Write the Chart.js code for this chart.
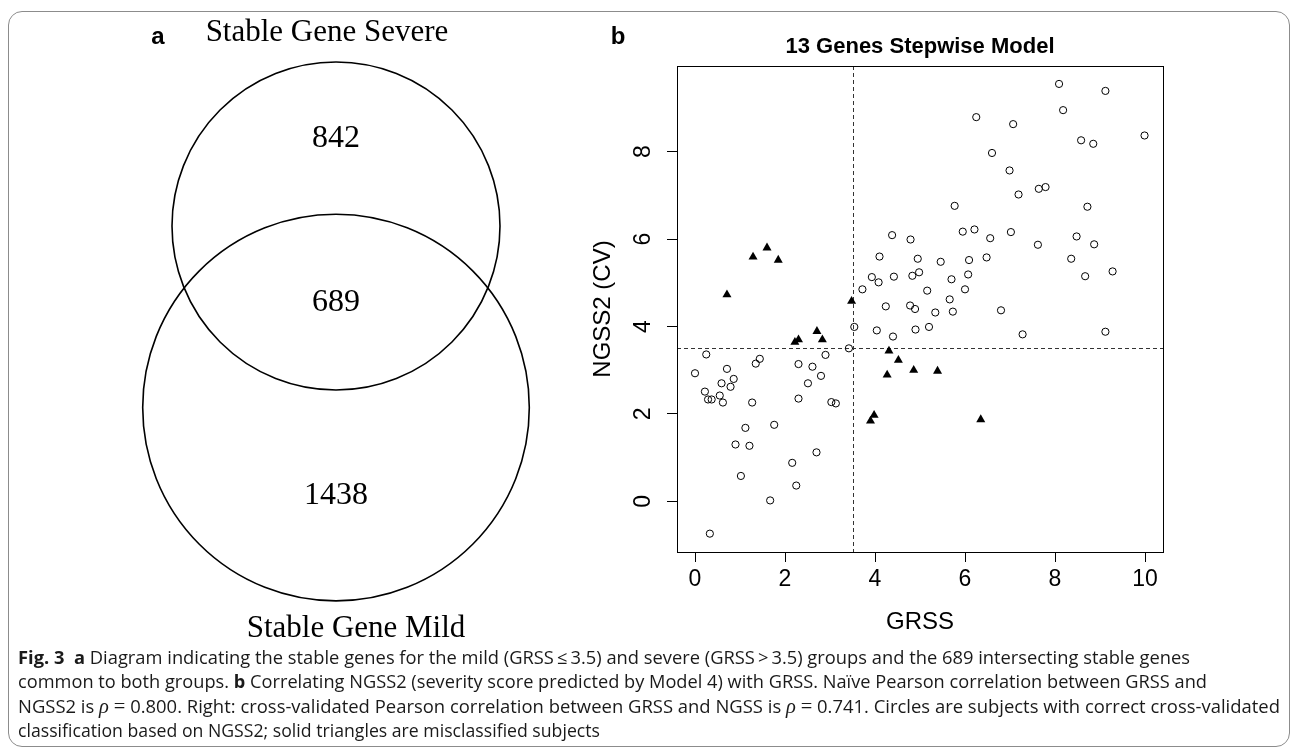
<!DOCTYPE html>
<html>
<head>
<meta charset="utf-8">
<script src="https://cdn.jsdelivr.net/npm/chart.js@4.4.1/dist/chart.umd.min.js"></script>
<style>
  html, body { margin: 0; padding: 0; background: #fff; }
  body { width: 1293px; height: 751px; position: relative; overflow: hidden; }
  #frame { position: absolute; left: 8px; top: 11px; width: 1282px; height: 736px; border: 1px solid #8c8c8c; border-radius: 14px; box-sizing: border-box; }
  canvas { position: absolute; top: 0; left: 0; }
  .cap { position: absolute; left: 18px; height: 22px; line-height: 22px; font-family: "Open Sans", sans-serif; font-size: 18px; white-space: nowrap; transform-origin: 0 50%; color: #1a1a1a; }
  .cap b { font-weight: 700; }
  .rho { font-family: "Liberation Serif", serif; font-style: italic; font-size: 20px; }
  .eq { font-family: "Liberation Serif", serif; font-size: 20px; }
</style>
</head>
<body>
<div id="frame"></div>
<canvas id="venn" width="640" height="751"></canvas>
<canvas id="scatter" width="1293" height="751"></canvas>

<div class="cap" style="top:646px"><b>Fig. 3</b>&nbsp;&nbsp;<b>a</b> Diagram indicating the stable genes for the mild (GRSS&thinsp;≤&thinsp;3.5) and severe (GRSS&thinsp;&gt;&thinsp;3.5) groups and the 689 intersecting stable genes</div>
<div class="cap" style="top:670px">common to both groups. <b>b</b> Correlating NGSS2 (severity score predicted by Model 4) with GRSS. Naïve Pearson correlation between GRSS and</div>
<div class="cap" style="top:695px">NGSS2 is <span class="rho">ρ</span> <span class="eq">=</span> 0.800. Right: cross-validated Pearson correlation between GRSS and NGSS is <span class="rho">ρ</span> <span class="eq">=</span> 0.741. Circles are subjects with correct cross-validated</div>
<div class="cap" style="top:719px">classification based on NGSS2; solid triangles are misclassified subjects</div>

<script>
// ---- panel a: Venn counts ----
const vennSets = ["Stable Gene Severe", "Stable Gene Mild"]
const vennCounts = [842, 689, 1438]   // severe only, both, mild only

// ---- panel b: scatter ----
const circlesGRSS = [0.25,0.00,0.71,0.86,0.59,0.79,0.22,0.55,0.29,0.37,0.62,1.35,1.44,1.27,1.12,1.76,0.90,1.21,1.02,1.67,0.33,2.30,2.61,2.90,2.80,2.51,2.30,3.03,3.13,2.70,2.16,2.25,3.42,3.54,3.72,3.93,4.08,4.10,4.38,4.42,4.24,4.04,4.40,4.79,4.95,4.83,4.98,4.78,4.89,4.90,5.20,5.16,5.34,5.46,5.77,5.70,5.66,5.73,5.95,6.21,6.09,6.07,6.00,6.56,6.48,6.80,7.02,7.19,7.64,7.79,7.62,7.28,8.72,8.48,8.87,8.36,8.67,9.28,9.12,8.09,9.12,6.25,7.07,8.18,6.60,8.58,8.85,9.99,6.99]
const circlesNGSS = [3.36,2.93,3.03,2.80,2.70,2.62,2.51,2.42,2.33,2.33,2.26,3.15,3.26,2.26,1.68,1.75,1.30,1.27,0.58,0.02,-0.74,3.14,3.08,3.35,2.87,2.70,2.35,2.27,2.24,1.12,0.88,0.36,3.50,3.99,4.85,5.13,5.01,5.60,6.09,5.14,4.46,3.91,3.77,5.99,5.55,5.16,5.24,4.48,4.40,3.93,3.99,4.82,4.32,5.48,6.76,5.08,4.62,4.34,6.17,6.22,5.52,5.19,4.85,6.02,5.58,4.37,6.16,7.02,7.15,7.19,5.87,3.82,6.74,6.06,5.88,5.55,5.15,5.26,3.88,9.55,9.39,8.79,8.63,8.95,7.97,8.26,8.18,8.37,7.57]
const trianglesGRSS = [0.71,1.29,1.60,1.85,2.22,2.30,2.71,2.83,3.48,3.90,3.98,4.27,4.31,4.52,4.86,5.39,6.35]
const trianglesNGSS = [4.73,5.59,5.80,5.52,3.64,3.70,3.89,3.70,4.58,1.84,1.97,2.89,3.44,3.23,3.00,2.98,1.87]
const xTicks = [0, 2, 4, 6, 8, 10]
const yTicks = [0, 2, 4, 6, 8]
const cutoff = 3.5

const sans = '"Liberation Sans", Arial, sans-serif'
const serif = '"Liberation Serif", "Times New Roman", serif'

// ---------- Venn geometry from the counts (area proportional to set size) ----------
const severeTotal = vennCounts[0] + vennCounts[1]
const mildTotal = vennCounts[1] + vennCounts[2]
const r1 = Math.sqrt(severeTotal / Math.PI)
const r2 = Math.sqrt(mildTotal / Math.PI)

function lensArea(d) {
  const a = Math.acos((d * d + r1 * r1 - r2 * r2) / (2 * d * r1))
  const b = Math.acos((d * d + r2 * r2 - r1 * r1) / (2 * d * r2))
  const k = Math.sqrt((-d + r1 + r2) * (d + r1 - r2) * (d - r1 + r2) * (d + r1 + r2))
  return r1 * r1 * a + r2 * r2 * b - 0.5 * k
}
let lo = Math.abs(r2 - r1) + 1e-6, hi = r1 + r2 - 1e-6
for (let i = 0; i < 60; i++) {
  const mid = (lo + hi) / 2
  if (lensArea(mid) > vennCounts[1]) lo = mid; else hi = mid
}
const dist = (lo + hi) / 2

// layout of panel a (pixels)
const vennCx = 336, vennTop = 62, vennPx = 164 / r1
const vennW = 640, vennH = 751
const vennYMax = r1 + vennTop / vennPx

const vennLabels = {
  id: "vennLabels",
  afterDraw(chart) {
    const { ctx, scales: { x, y } } = chart
    const cx = x.getPixelForValue(0)
    const top1 = y.getPixelForValue(r1), bot1 = y.getPixelForValue(-r1)
    const top2 = y.getPixelForValue(-dist + r2), bot2 = y.getPixelForValue(-dist - r2)
    ctx.save()
    ctx.fillStyle = "#000"
    ctx.textAlign = "center"
    ctx.textBaseline = "middle"
    ctx.font = `32px ${serif}`
    ctx.fillText(String(vennCounts[0]), cx, (top1 + top2) / 2)
    ctx.fillText(String(vennCounts[1]), cx, (top2 + bot1) / 2)
    ctx.fillText(String(vennCounts[2]), cx, (bot1 + bot2) / 2)
    ctx.font = `31px ${serif}`
    ctx.fillText(vennSets[0], cx - 9, top1 - 29)
    ctx.fillText(vennSets[1], cx + 20, bot2 + 28)
    ctx.font = `bold 24px ${sans}`
    ctx.fillText("a", 158, 37)
    ctx.restore()
  }
}

new Chart(document.getElementById("venn"), {
  type: "scatter",
  data: {
    datasets: [{
      data: [{ x: 0, y: 0 }, { x: 0, y: -dist }],
      pointRadius: ctx => (ctx.dataIndex === 0 ? r1 : r2) * vennPx,
      pointStyle: "circle",
      pointBackgroundColor: "rgba(0,0,0,0)",
      pointBorderColor: "#000",
      pointBorderWidth: 1.6,
      showLine: false,
      clip: false
    }]
  },
  options: {
    responsive: false,
    animation: false,
    devicePixelRatio: 1,
    events: [],
    layout: { padding: 0, autoPadding: false },
    plugins: { legend: { display: false }, tooltip: { enabled: false } },
    scales: {
      x: { display: false, min: -vennCx / vennPx, max: (vennW - vennCx) / vennPx },
      y: { display: false, min: vennYMax - vennH / vennPx, max: vennYMax }
    }
  },
  plugins: [vennLabels]
})

// ---------- scatter ----------
const boxAndCutoffs = {
  id: "boxAndCutoffs",
  beforeDatasetsDraw(chart) {
    const { ctx, chartArea: a, scales: { x, y } } = chart
    ctx.save()
    ctx.strokeStyle = "#333"
    ctx.lineWidth = 1
    ctx.setLineDash([4, 3])
    const px = Math.round(x.getPixelForValue(cutoff)) + 0.5
    const py = Math.round(y.getPixelForValue(cutoff)) + 0.5
    ctx.beginPath()
    ctx.moveTo(px, a.top); ctx.lineTo(px, a.bottom)
    ctx.moveTo(a.left, py); ctx.lineTo(a.right, py)
    ctx.stroke()
    ctx.setLineDash([])
    ctx.strokeStyle = "#000"
    ctx.strokeRect(Math.round(a.left) + 0.5, Math.round(a.top) + 0.5, Math.round(a.width), Math.round(a.height))
    ctx.restore()
  },
  afterDraw(chart) {
    const { ctx, chartArea: a, scales: { y } } = chart
    ctx.save()
    ctx.fillStyle = "#000"
    ctx.textAlign = "center"
    ctx.textBaseline = "middle"
    ctx.font = `23px ${sans}`
    y.ticks.forEach(t => {
      ctx.save()
      ctx.translate(a.left - 33, y.getPixelForValue(t.value))
      ctx.rotate(-Math.PI / 2)
      ctx.fillText(String(t.value), 0, 0)
      ctx.restore()
    })
    ctx.font = `bold 24px ${sans}`
    ctx.fillText("b", a.left - 59, 37)
    ctx.restore()
  }
}

const tickStyle = { color: "#000", font: { family: sans, size: 23 } }
const titleFont = { family: sans, size: 24 }

new Chart(document.getElementById("scatter"), {
  type: "scatter",
  data: {
    datasets: [
      {
        data: circlesGRSS.map((x, i) => ({ x, y: circlesNGSS[i] })),
        pointStyle: "circle",
        pointRadius: 3.6,
        pointBorderWidth: 1,
        pointBorderColor: "#000",
        pointBackgroundColor: "rgba(0,0,0,0)"
      },
      {
        data: trianglesGRSS.map((x, i) => ({ x, y: trianglesNGSS[i] })),
        pointStyle: "triangle",
        pointRadius: 5.2,
        pointBorderWidth: 0,
        pointBorderColor: "#000",
        pointBackgroundColor: "#000"
      }
    ]
  },
  options: {
    responsive: false,
    animation: false,
    devicePixelRatio: 1,
    events: [],
    layout: { padding: { left: 588.6, right: 130, top: 0, bottom: 114.6 }, autoPadding: false },
    plugins: {
      legend: { display: false },
      tooltip: { enabled: false },
      title: {
        display: true,
        text: "13 Genes Stepwise Model",
        fullSize: false,
        color: "#000",
        font: { family: sans, size: 22, weight: "bold" },
        padding: { top: 33.8, bottom: 5.8 }
      }
    },
    scales: {
      x: {
        type: "linear",
        min: -0.4,
        max: 10.4,
        afterBuildTicks: s => { s.ticks = xTicks.map(value => ({ value })) },
        afterFit: s => { s.height = 84.4 },
        ticks: { ...tickStyle, padding: 4, maxRotation: 0, autoSkip: false },
        grid: { drawOnChartArea: false, tickLength: 10, color: "#000" },
        border: { display: false },
        title: { display: true, text: "GRSS", color: "#000", font: titleFont, padding: 0 }
      },
      y: {
        type: "linear",
        min: -1.16,
        max: 9.96,
        afterBuildTicks: s => { s.ticks = yTicks.map(value => ({ value })) },
        afterFit: s => { s.width = 88.4 },
        ticks: { display: false },
        grid: { drawOnChartArea: false, tickLength: 10, color: "#000" },
        border: { display: false },
        title: { display: true, text: "NGSS2 (CV)", color: "#000", font: titleFont, padding: 0 }
      }
    }
  },
  plugins: [boxAndCutoffs]
})

// stretch each caption line to the width it has in the figure
const capEnds = [1190, 1207, 1280, 600]
document.fonts.ready.then(() => {
  document.querySelectorAll(".cap").forEach((el, i) => {
    const w = el.getBoundingClientRect().width
    el.style.transform = `scaleX(${(capEnds[i] - 18) / w})`
  })
})
</script>
</body>
</html>
